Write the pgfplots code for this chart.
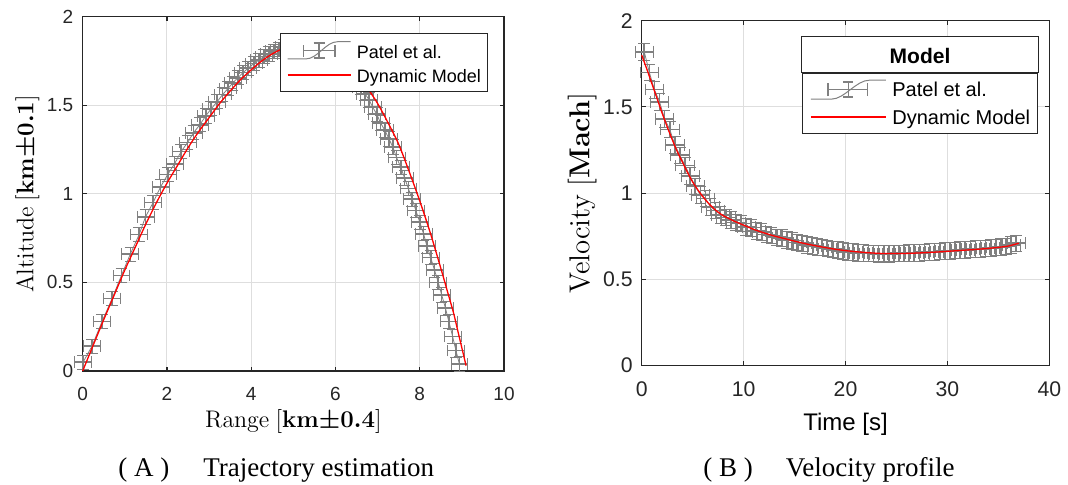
\documentclass[border=0pt]{standalone}
\usepackage[no-math]{fontspec}
\usepackage{pgfplots}
\pgfplotsset{compat=1.18}
\setmainfont{Liberation Serif}
\newfontfamily\sans{Liberation Sans}
\definecolor{eb}{RGB}{128,128,128}
\definecolor{axc}{RGB}{38,38,38}
\definecolor{gridc}{RGB}{222,222,222}
\definecolor{mred}{RGB}{255,0,0}
\tikzset{ebicon/.style={draw=eb, line width=0.8pt}}
\pgfplotsset{
  matlab/.style={
    scale only axis, clip=false,
    grid=major, major grid style={draw=gridc, line width=0.5pt},
    axis line style={draw=axc, line width=0.55pt},
    tick style={draw=axc, line width=0.55pt},
    tick align=inside, xtick pos=both, ytick pos=both, major tick length=2.2pt,
    /pgf/number format/assume math mode=true,
    legend cell align=left,
  }
}
\begin{document}
\begin{tikzpicture}
\useasboundingbox (0,0) rectangle (534pt,242.5pt);
% ---------------- (A) ----------------
\begin{axis}[matlab,
  at={(41.35pt,57pt)}, anchor=south west, width=210.65pt, height=177.15pt,
  xmin=0, xmax=10, ymin=0, ymax=2,
  xtick={0,2,4,6,8,10}, ytick={0,0.5,1,1.5,2},
  ticklabel style={font=\fontsize{9.5}{11}\sans, text=axc},
  xticklabel style={yshift=-4.7pt}, yticklabel style={xshift=-1.2pt},
  xlabel={$\mathrm{Range}\ [${\boldmath$\mathbf{km{\pm}0.4}$}$]$},
  ylabel={$\mathrm{Altitude}\ [${\boldmath$\mathbf{km{\pm}0.1}$}$]$},
  xlabel style={font=\fontsize{12.3}{14}\selectfont, at={(axis description cs:0.5,-0.16)}, anchor=base},
  ylabel style={font=\fontsize{12.3}{14}\selectfont, at={(axis description cs:-0.1173,0.5)}, anchor=base},
  legend style={at={(0.962,0.9548)}, anchor=north east, draw=axc, line width=0.5pt, fill=white,
    font=\fontsize{9}{10}\sans, inner xsep=3.3pt, inner ysep=4pt, row sep=3.5pt, column sep=2.8pt,
    nodes={inner sep=0pt, text height=8pt, text depth=0.5pt}},
]
\addplot[color=eb, line width=0.4pt, mark=none,
  legend image code/.code={
    \draw[draw=eb, line width=0.5pt] (0pt,-4.2pt) -- (9.2pt,-4.2pt) .. controls (15pt,-4.2pt) and (19pt,4.4pt) .. (25pt,4.4pt) -- (31.5pt,4.4pt);
    \draw[ebicon] (7.9pt,0pt) -- (23.6pt,0pt) (7.9pt,-3pt) -- (7.9pt,3pt) (23.6pt,-3pt) -- (23.6pt,3pt)
      (15.75pt,-3.75pt) -- (15.75pt,3.75pt) (13pt,-3.75pt) -- (18.5pt,-3.75pt) (13pt,3.75pt) -- (18.5pt,3.75pt);
  },
  error bars/.cd, x dir=both, x fixed=0.2, y dir=both, y fixed=0.04,
  error bar style={color=eb, line width=0.8pt, mark size=2.9pt}]
coordinates {
(0.01,0.05) (0.22,0.14) (0.46,0.28) (0.70,0.41) (0.92,0.54) (1.13,0.66) (1.34,0.77)
(1.49,0.87) (1.67,0.95) (1.85,1.04) (2.02,1.11) (2.18,1.17) (2.34,1.24) (2.49,1.29)
(2.63,1.345) (2.78,1.39) (2.92,1.44) (3.05,1.48) (3.19,1.52) (3.32,1.56) (3.45,1.595)
(3.56,1.625) (3.68,1.655) (3.81,1.685) (3.93,1.71) (4.06,1.735) (4.18,1.755) (4.30,1.775)
(4.42,1.79) (4.54,1.805) (4.66,1.815) (4.78,1.83) (4.89,1.84) (5.01,1.84) (5.12,1.845)
(5.24,1.85) (5.35,1.85) (5.45,1.84) (5.56,1.83) (5.67,1.82) (5.78,1.81) (5.88,1.80)
(5.98,1.775) (6.09,1.75) (6.19,1.72) (6.30,1.695) (6.40,1.67) (6.50,1.635) (6.60,1.60)
(6.70,1.565) (6.80,1.53) (6.88,1.49) (6.98,1.45) (7.07,1.40) (7.17,1.36) (7.27,1.31)
(7.36,1.265) (7.45,1.205) (7.55,1.15) (7.64,1.09) (7.73,1.03) (7.82,0.97) (7.91,0.905)
(8.00,0.84) (8.09,0.775) (8.17,0.705) (8.26,0.64) (8.35,0.57) (8.44,0.50) (8.52,0.43)
(8.61,0.355) (8.69,0.28) (8.78,0.195) (8.86,0.115) (8.94,0.04)
};
\addlegendentry{Patel et al.}
\addplot[color=mred, line width=0.65pt, mark=none, smooth,
  legend image code/.code={\draw[draw=mred, line width=0.65pt] (0pt,0pt) -- (31.5pt,0pt);}]
coordinates {
(0,0) (0.25,0.146) (0.5,0.29) (0.75,0.43) (1,0.57) (1.25,0.70) (1.5,0.83) (1.75,0.95)
(2,1.06) (2.25,1.16) (2.5,1.26) (2.75,1.35) (3,1.43) (3.25,1.51) (3.5,1.58) (3.75,1.645)
(4,1.70) (4.25,1.75) (4.5,1.79) (4.75,1.82) (5,1.84) (5.25,1.85) (5.5,1.85) (5.75,1.83)
(6,1.80) (6.25,1.745) (6.5,1.68) (6.75,1.60) (7,1.51) (7.25,1.40) (7.5,1.28) (7.75,1.125)
(8,0.96) (8.25,0.78) (8.5,0.58) (8.65,0.455) (8.8,0.33) (8.9,0.23) (9,0.13) (9.1,0.03)
};
\addlegendentry{Dynamic Model}
\end{axis}
% ---------------- (B) ----------------
\begin{axis}[matlab,
  at={(320.85pt,59.65pt)}, anchor=south west, width=203.8pt, height=172.5pt,
  xmin=0, xmax=40, ymin=0, ymax=2,
  xtick={0,10,20,30,40}, ytick={0,0.5,1,1.5,2},
  ticklabel style={font=\fontsize{10.6}{12}\sans, text=axc},
  xticklabel style={yshift=-4.5pt}, yticklabel style={xshift=-1pt},
  xlabel={Time [s]},
  ylabel={$\mathrm{Velocity}\ [${\boldmath$\mathbf{Mach}$}$]$},
  xlabel style={font=\fontsize{12}{14}\sans, at={(axis description cs:0.5,-0.1864)}, anchor=base},
  ylabel style={font=\fontsize{14.5}{16}\selectfont, at={(axis description cs:-0.1286,0.5)}, anchor=base},
  legend style={at={(0.973,0.8493)}, anchor=north east, draw=axc, line width=0.5pt, fill=white,
    font=\fontsize{10}{12}\sans, inner xsep=3.8pt, inner ysep=3pt, row sep=3.4pt, column sep=2.85pt,
    nodes={inner sep=0pt, text height=8.66pt, text depth=1.8pt}},
]
\addplot[color=eb, line width=0.4pt, mark=none,
  legend image code/.code={
    \draw[draw=eb, line width=0.5pt] (0pt,-4.75pt) -- (10.3pt,-4.75pt) .. controls (17pt,-4.75pt) and (22.5pt,4.75pt) .. (29.5pt,4.75pt) -- (37.5pt,4.75pt);
    \draw[ebicon] (8.7pt,0pt) -- (28.3pt,0pt) (8.7pt,-3.3pt) -- (8.7pt,3.3pt) (28.3pt,-3.3pt) -- (28.3pt,3.3pt)
      (18.8pt,-3.75pt) -- (18.8pt,3.75pt) (16.3pt,-3.75pt) -- (21.3pt,-3.75pt) (16.3pt,3.75pt) -- (21.3pt,3.75pt);
  },
  error bars/.cd, x dir=both, x fixed=0.9, y dir=both, y fixed=0.048,
  error bar style={color=eb, line width=0.8pt, mark size=2.9pt}]
coordinates {
(0.25,1.82) (0.75,1.70) (1.25,1.60) (1.75,1.53) (2.25,1.43) (2.75,1.37) (3.25,1.28)
(3.75,1.22) (4.25,1.16) (4.75,1.10) (5.25,1.04) (5.75,0.99) (6.25,0.97) (6.75,0.92)
(7.25,0.90) (7.75,0.875) (8.25,0.86) (8.75,0.845) (9.25,0.83) (9.75,0.825) (10.25,0.805)
(10.75,0.80) (11.25,0.78) (11.75,0.775) (12.25,0.76) (12.75,0.755) (13.25,0.745) (13.75,0.74)
(14.25,0.73) (14.75,0.725) (15.25,0.715) (15.75,0.71) (16.25,0.70) (16.75,0.695) (17.25,0.69)
(17.75,0.685) (18.25,0.68) (18.75,0.675) (19.25,0.67) (19.75,0.665) (20.25,0.66) (20.75,0.66)
(21.25,0.655) (21.75,0.655) (22.25,0.65) (22.75,0.65) (23.25,0.648) (23.75,0.65) (24.25,0.648)
(24.75,0.65) (25.25,0.652) (25.75,0.65) (26.25,0.653) (26.75,0.655) (27.25,0.655) (27.75,0.658)
(28.25,0.66) (28.75,0.66) (29.25,0.662) (29.75,0.665) (30.25,0.665) (30.75,0.668) (31.25,0.67)
(31.75,0.672) (32.25,0.675) (32.75,0.676) (33.25,0.678) (33.75,0.68) (34.25,0.683) (34.75,0.685)
(35.25,0.688) (35.75,0.692) (36.25,0.70) (36.75,0.71)
};
\addlegendentry{Patel et al.}
\addplot[color=mred, line width=0.65pt, mark=none, smooth,
  legend image code/.code={\draw[draw=mred, line width=0.9pt] (0pt,0.3pt) -- (37.5pt,0.3pt);}]
coordinates {
(0,1.80) (0.5,1.72) (1,1.635) (1.5,1.55) (2,1.465) (2.5,1.385) (3,1.31) (3.5,1.24)
(4,1.18) (4.5,1.12) (5,1.065) (5.5,1.02) (6,0.98) (6.5,0.945) (7,0.915) (7.5,0.89)
(8,0.87) (9,0.84) (10,0.815) (11,0.79) (12,0.77) (13,0.752) (14,0.737) (15,0.722)
(16,0.708) (17,0.696) (18,0.685) (19,0.675) (20,0.667) (21,0.661) (22,0.656) (23,0.652)
(24,0.650) (25,0.650) (26,0.651) (27,0.653) (28,0.656) (29,0.659) (30,0.663) (31,0.667)
(32,0.671) (33,0.675) (34,0.680) (35,0.686) (36,0.694) (37,0.71)
};
\addlegendentry{Dynamic Model}
\draw[draw=axc, line width=0.5pt, fill=white] (rel axis cs:0.3925,0.8493) rectangle (rel axis cs:0.973,0.9536);
\node[font=\fontsize{10.5}{12}\sans\bfseries, anchor=base, inner sep=0pt] at (rel axis cs:0.6828,0.8493) [yshift=4.7pt] {Model};
\end{axis}
% captions
\node[anchor=base west, inner sep=0pt, font=\fontsize{13.5}{16}\selectfont] at (59pt,4pt) {( A )\hspace{17pt}Trajectory estimation};
\node[anchor=base west, inner sep=0pt, font=\fontsize{13.5}{16}\selectfont] at (351.5pt,4pt) {( B )\hspace{16.5pt}Velocity profile};
\end{tikzpicture}
\end{document}
